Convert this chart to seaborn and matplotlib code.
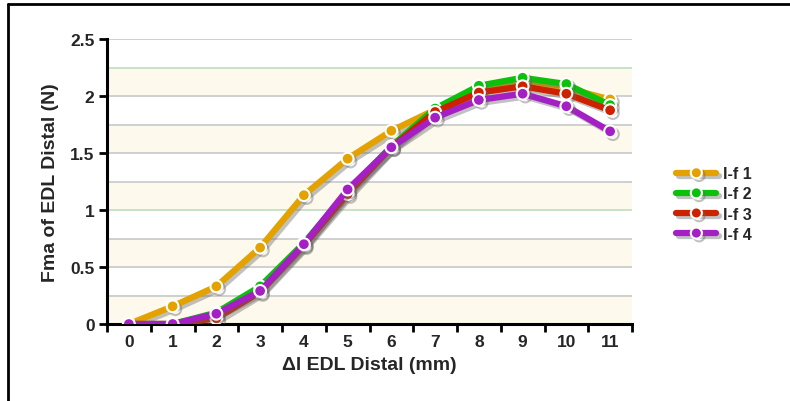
import matplotlib
matplotlib.use("Agg")
import matplotlib.pyplot as plt
import matplotlib.patheffects as pe
from matplotlib.lines import Line2D
import seaborn as sns
import pandas as pd
import numpy as np

x_vals = [0, 1, 2, 3, 4, 5, 6, 7, 8, 9, 10, 11]
if_1 = [0.0, 0.155, 0.33, 0.67, 1.13, 1.45, 1.695, 1.88, 2.06, 2.12, 2.07, 1.97]
if_2 = [0.0, 0.0, 0.10, 0.33, 0.71, 1.16, 1.56, 1.89, 2.09, 2.16, 2.105, 1.92]
if_3 = [0.0, 0.0, 0.05, 0.28, 0.69, 1.14, 1.55, 1.86, 2.03, 2.085, 2.02, 1.875]
if_4 = [0.0, 0.0, 0.09, 0.29, 0.70, 1.18, 1.55, 1.81, 1.965, 2.02, 1.91, 1.69]
series_names = ["I-f 1", "I-f 2", "I-f 3", "I-f 4"]
colors = ["#E3A200", "#0BC10B", "#CC2200", "#A41FC4"]

rows = []
for name, vals in zip(series_names, [if_1, if_2, if_3, if_4]):
    for xv, yv in zip(x_vals, vals):
        rows.append({"x": xv, "y": yv, "series": name})
df = pd.DataFrame(rows)

sns.set_theme(style="white")
plt.rcParams["font.family"] = ["Liberation Sans", "DejaVu Sans"]
plt.rcParams["font.weight"] = "bold"

fig = plt.figure(figsize=(7.9, 4.02), dpi=100)
ax = fig.add_axes([107/790, 1 - 325/402, (632-107)/790, (325-40)/402])

# background bands
for lo in np.arange(0, 2.5, 0.5):
    ax.axhspan(lo, lo + 0.25, color="#FDF9EC", zorder=0, lw=0)
for g in np.arange(0.25, 2.51, 0.25):
    c = "#BFDDC0" if abs(g - 2.25) < 1e-6 or abs(g - 1.0) < 1e-6 else "#C8C8C8"
    ax.axhline(g, color=c, lw=1.2, zorder=0.5)

shadow = [pe.SimpleLineShadow(offset=(2, -2), shadow_color="#666666", alpha=0.4), pe.Normal()]
sns.lineplot(data=df, x="x", y="y", hue="series", palette=colors, hue_order=series_names,
             marker="o", markersize=8.5, markeredgecolor="white", markeredgewidth=1.5,
             linewidth=4.5, ax=ax, legend=False, zorder=3)
for ln in ax.lines:
    if ln.get_marker() == "o":
        ln.set_path_effects(shadow)

ax.set_xlim(-0.5, 11.5)
ax.set_ylim(0, 2.5)
ax.set_xticks(x_vals)
ax.set_xticklabels([str(v) for v in x_vals], fontsize=12.5, fontweight="bold")
ax.set_yticks([0, 0.5, 1, 1.5, 2, 2.5])
ax.set_yticklabels(["0", "0.5", "1", "1.5", "2", "2.5"], fontsize=12.5, fontweight="bold")
ax.set_xticks(np.arange(-0.5, 11.6, 1), minor=True)
ax.tick_params(axis="x", which="major", length=0, pad=7)
ax.tick_params(axis="x", which="minor", length=6, width=2, direction="out", color="black")
ax.tick_params(axis="y", which="major", length=6, width=2, direction="out", color="black", pad=3)
ax.xaxis.set_ticks_position("bottom")
ax.yaxis.set_ticks_position("left")

for s in ["top", "right"]:
    ax.spines[s].set_visible(False)
for s in ["left", "bottom"]:
    ax.spines[s].set_color("black")
    ax.spines[s].set_linewidth(2.2)

ax.set_xlabel("Δl EDL Distal (mm)", fontsize=14, fontweight="bold", labelpad=5)
ax.set_ylabel("Fma of EDL Distal (N)", fontsize=14, fontweight="bold", labelpad=8)

handles = [Line2D([0], [0], color=c, lw=4.5, marker="o", markersize=8,
                  markeredgecolor="white", markeredgewidth=1.5, path_effects=shadow)
           for c in colors]
fig.legend(handles, series_names, loc="center left", bbox_to_anchor=(662/790, 1 - 205/402),
           frameon=False, prop={"weight": "bold", "size": 11.5},
           handlelength=2.5, numpoints=1, labelspacing=0.32, handletextpad=0.45)

# outer border (top and left)
fig.add_artist(Line2D([8/790, 8/790], [0, 1 - 5/402], transform=fig.transFigure, color="black", lw=2))
fig.add_artist(Line2D([8/790, 1], [1 - 5/402, 1 - 5/402], transform=fig.transFigure, color="black", lw=2))

fig.savefig("out.png", dpi=100)
